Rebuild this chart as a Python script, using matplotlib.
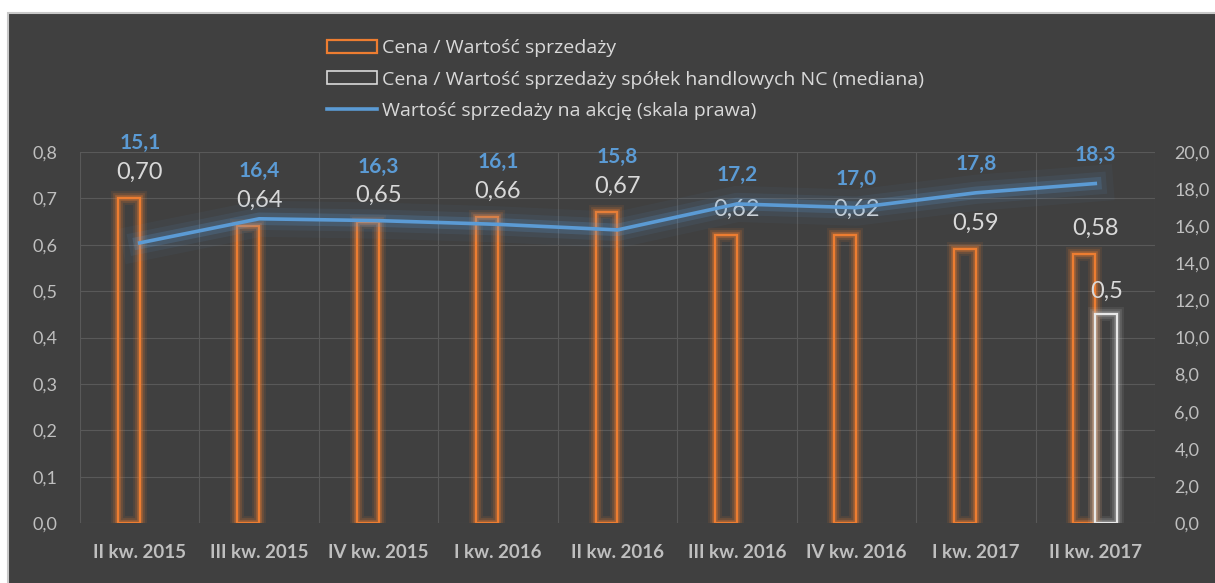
import matplotlib
matplotlib.use('Agg')
import numpy as np
import matplotlib.pyplot as plt
import matplotlib.patheffects as pe
from matplotlib.patches import Patch, Rectangle
from matplotlib.lines import Line2D

#### data ####
quarters = ['II kw. 2015', 'III kw. 2015', 'IV kw. 2015', 'I kw. 2016', 'II kw. 2016',
            'III kw. 2016', 'IV kw. 2016', 'I kw. 2017', 'II kw. 2017']
price_sales = [0.70, 0.64, 0.65, 0.66, 0.67, 0.62, 0.62, 0.59, 0.58]
price_sales_nc = [None, None, None, None, None, None, None, None, 0.45]
sales_per_share = [15.1, 16.4, 16.3, 16.1, 15.8, 17.2, 17.0, 17.8, 18.3]
left_ticks = [0.0, 0.1, 0.2, 0.3, 0.4, 0.5, 0.6, 0.7, 0.8]
right_ticks = [0, 2, 4, 6, 8, 10, 12, 14, 16, 18, 20]

legend_labels = ['Cena / Wartość sprzedaży',
                 'Cena / Wartość sprzedaży spółek handlowych NC (mediana)',
                 'Wartość sprzedaży na akcję (skala prawa)']

#### colours ####
bg = '#404040'
orange = '#ED7D31'
light = '#D9D9D9'
blue = '#5B9BD5'
tick_col = '#BFBFBF'
grid_col = '#595959'

plt.rcParams['font.family'] = ['Lato', 'DejaVu Sans']

fig = plt.figure(figsize=(12.15, 5.83), dpi=100, facecolor='white')
# dark chart area with thin light border
fig.patches.append(Rectangle((8 / 1215, -0.01), 1 - 8 / 1215 + 0.01, 1 - 13 / 583 + 0.01,
                             transform=fig.transFigure, facecolor=bg, edgecolor='#C8C8C8',
                             linewidth=1.5, zorder=-5))

ax = fig.add_axes([80 / 1215, 1 - 523 / 583, 1075 / 1215, 371 / 583])
ax.set_facecolor('none')
ax2 = ax.twinx()

x = np.arange(len(quarters))
w = 0.184

def glow(col, widths, alphas):
    eff = [pe.Stroke(linewidth=lw, foreground=col, alpha=a) for lw, a in zip(widths, alphas)]
    return eff + [pe.Normal()]

# bars
bars = ax.bar(x - w / 2, price_sales, width=w, facecolor='none', edgecolor=orange, linewidth=1.6, zorder=3)
for b in bars:
    b.set_path_effects(glow(orange, [10, 7, 4], [0.1, 0.18, 0.35]))

nc_vals = [np.nan if v is None else v for v in price_sales_nc]
bars2 = ax.bar(x + w / 2, nc_vals, width=w, facecolor='none', edgecolor='#E8E8E8', linewidth=1.6, zorder=3)
for b in bars2:
    b.set_path_effects(glow('#BBBBBB', [10, 7, 4], [0.1, 0.18, 0.3]))

# bar labels
for xi, v in zip(x, price_sales):
    ax.text(xi, v + 26 / 464, f'{v:.2f}'.replace('.', ','), ha='center', va='center',
            color=light, fontsize=17, zorder=6)
for xi, v in zip(x, price_sales_nc):
    if v is not None:
        ax.text(xi + w / 2, v + 23 / 464, f'{v:.1f}'.replace('.', ','), ha='center', va='center',
                color=light, fontsize=17, zorder=6)

# line
ax2.plot(x, sales_per_share, color=blue, linewidth=2.6, zorder=4,
         path_effects=glow(blue, [26, 16, 9], [0.05, 0.09, 0.2]))
for xi, v, b in zip(x, sales_per_share, price_sales):
    bar_lab = b * 25 + 26 / 18.55
    y_lab = max(v, bar_lab) + 29 / 18.55
    ax2.text(xi, y_lab, f'{v:.1f}'.replace('.', ','), ha='center', va='center',
             color=blue, fontsize=15, fontweight='bold', zorder=6)

# axes
ax.set_xlim(-0.5, len(quarters) - 0.5)
ax.set_ylim(0, 0.8)
ax2.set_ylim(0, 20)
ax.set_yticks(left_ticks)
ax.set_yticklabels([f'{t:.1f}'.replace('.', ',') for t in left_ticks])
ax2.set_yticks(right_ticks)
ax2.set_yticklabels([f'{t:.1f}'.replace('.', ',') for t in right_ticks])
ax.set_xticks(x)
ax.set_xticklabels(quarters, fontweight='bold')

ax.set_xticks(np.arange(-0.5, len(quarters), 1), minor=True)
ax.grid(which='minor', axis='x', color=grid_col, linewidth=0.8, zorder=0)
ax.grid(which='major', axis='y', color=grid_col, linewidth=0.8, zorder=0)

ax.tick_params(axis='x', which='both', length=0, colors=tick_col, labelsize=13.5, pad=15)
ax.tick_params(axis='y', length=0, colors=tick_col, labelsize=13, pad=16)
ax2.tick_params(axis='y', length=0, colors=tick_col, labelsize=13, pad=14)
for a in (ax, ax2):
    for s in a.spines.values():
        s.set_visible(False)

# legend
handles = [Patch(facecolor='none', edgecolor=orange, linewidth=1.6),
           Patch(facecolor='none', edgecolor=light, linewidth=1.2),
           Line2D([0], [0], color=blue, linewidth=2.6)]
leg = fig.legend(handles, legend_labels, loc='upper left', bbox_to_anchor=(327 / 1215, 1 - 39 / 583),
                 frameon=False, prop={'family': ['Open Sans', 'DejaVu Sans'], 'size': 14},
                 labelcolor=light, handlelength=2.57, handleheight=0.68, handletextpad=0.25,
                 labelspacing=0.7, borderpad=0, borderaxespad=0)

fig.savefig('out.png', dpi=100, facecolor='white')
